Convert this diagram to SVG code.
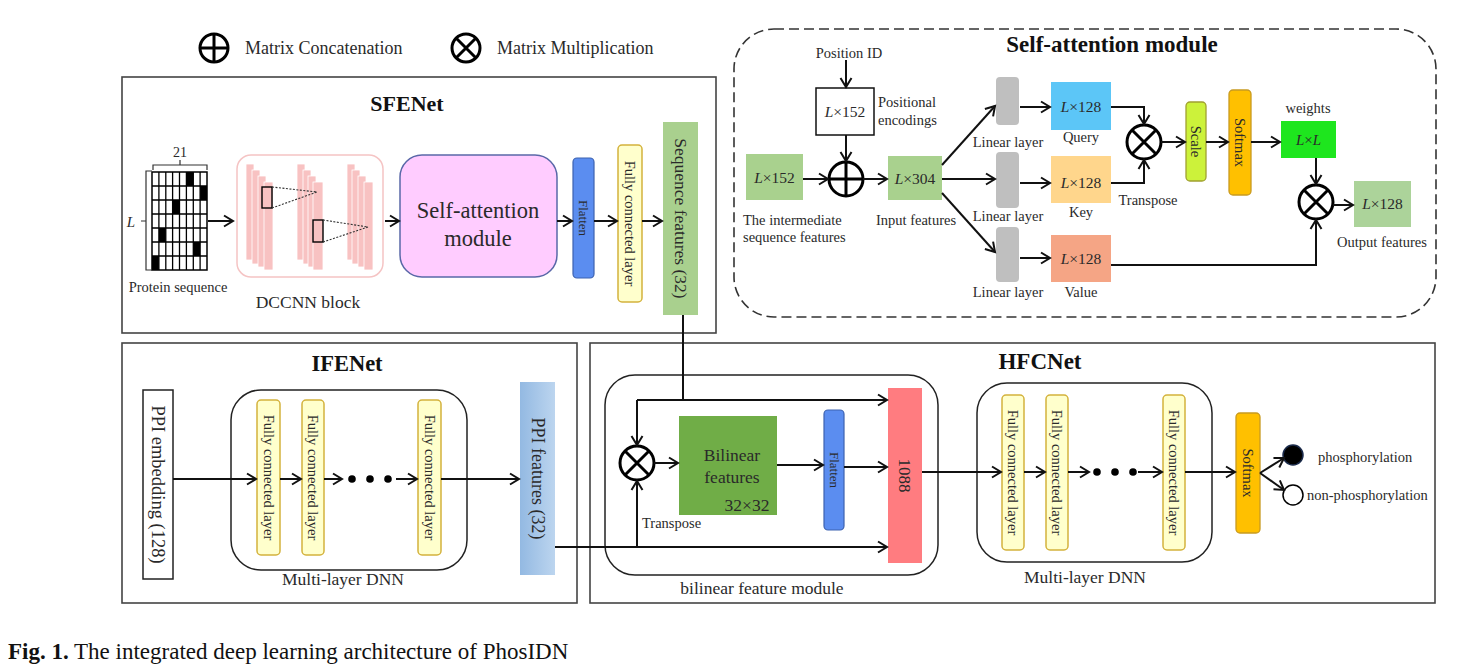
<svg xmlns="http://www.w3.org/2000/svg" width="1462" height="665" viewBox="0 0 1462 665">
<defs>
<style>
text{font-family:"Liberation Serif","Times New Roman",serif;fill:#2a2a2a}
.b{font-weight:bold;fill:#111}
.s14{font-size:14.5px}
.s17{font-size:18px}
.m{text-anchor:middle}
.frame{fill:none;stroke:#444;stroke-width:1.6}
.ln{fill:none;stroke:#111;stroke-width:2}
.ar{fill:none;stroke:#111;stroke-width:2;marker-end:url(#arr)}
.fc{fill:#ffffcc;stroke:#d4b23c;stroke-width:1.5}
.bar{fill:#f8c2c2;stroke:#fff;stroke-width:0.8}
.op{fill:#fff;stroke:#000;stroke-width:3}
.rt{font-size:14.5px;text-anchor:middle}
</style>
<marker id="arr" markerUnits="userSpaceOnUse" markerWidth="14" markerHeight="14" refX="11" refY="7" orient="auto">
<path d="M2,1.5 L11,7 L2,12.5" fill="none" stroke="#111" stroke-width="2"/>
</marker>
<linearGradient id="ppig" x1="0" y1="0" x2="1" y2="0">
<stop offset="0" stop-color="#93b9e2"/>
<stop offset="1" stop-color="#bcd5ef"/>
</linearGradient>
</defs>
<rect width="1462" height="665" fill="#fff"/>

<!-- Legend -->
<g id="legend">
<circle class="op" cx="214" cy="48" r="14"/>
<path d="M200,48 H228 M214,34 V62" stroke="#000" stroke-width="3"/>
<text x="245" y="54" class="s17">Matrix Concatenation</text>
<circle class="op" cx="466" cy="48" r="14"/>
<path d="M456,38 L476,58 M476,38 L456,58" stroke="#000" stroke-width="3"/>
<text x="497" y="54" class="s17">Matrix Multiplication</text>
</g>

<!-- Frames -->
<g id="SFENet">
<rect class="frame" x="122" y="77" width="594" height="256"/>
<text x="407" y="111" class="b m" style="font-size:22px">SFENet</text>
</g>
<g id="IFENet">
<rect class="frame" x="122" y="343" width="455" height="260"/>
<text x="347" y="371" class="b m" style="font-size:22.5px">IFENet</text>
</g>
<g id="HFCNet">
<rect class="frame" x="590" y="343" width="845" height="260"/>
<text x="1040" y="369" class="b m" style="font-size:23px">HFCNet</text>
</g>
<g id="sa-module-frame">
<rect x="734" y="29" width="702" height="288" rx="40" fill="none" stroke="#333" stroke-width="1.6" stroke-dasharray="10,5"/>
<text x="1112" y="52" class="b m" style="font-size:23px">Self-attention module</text>
</g>

<!-- Protein sequence grid -->
<g id="protein-seq">
<rect x="152" y="172" width="55" height="98" fill="#fff" stroke="#000" stroke-width="1.5"/>
<g fill="#000">
<rect x="186.4" y="172" width="6.9" height="14"/>
<rect x="200.1" y="186" width="6.9" height="14"/>
<rect x="172.6" y="200" width="6.9" height="14"/>
<rect x="158.9" y="228" width="6.9" height="14"/>
<rect x="193.3" y="242" width="6.9" height="14"/>
<rect x="152" y="256" width="6.9" height="14"/>
</g>
<path d="M158.9,172V270M165.8,172V270M172.6,172V270M179.5,172V270M186.4,172V270M193.3,172V270M200.1,172V270M152,186H207M152,200H207M152,214H207M152,228H207M152,242H207M152,256H207" stroke="#000" stroke-width="1.3"/>
<path d="M152,171 H146 V270 H152 M146,221 H141" fill="none" stroke="#333" stroke-width="1.2"/>
<path d="M153,170 V165 H207 V170 M180,165 V160" fill="none" stroke="#333" stroke-width="1.2"/>
<text x="180" y="157" class="m" style="font-size:14px">21</text>
<text x="131" y="227" class="m" style="font-size:15px;font-style:italic">L</text>
<text x="178" y="292" class="m" style="font-size:14.5px">Protein sequence</text>
</g>

<!-- DCCNN block -->
<g id="dccnn">
<rect x="237" y="155" width="146" height="122" rx="14" fill="#fff" stroke="#f5c4c4" stroke-width="1.5"/>
<rect class="bar" x="246" y="164" width="8" height="96"/>
<rect class="bar" x="252" y="170" width="8" height="94"/>
<rect class="bar" x="258" y="176" width="8" height="91"/>
<rect class="bar" x="264" y="182" width="9" height="88"/>
<rect class="bar" x="297" y="164" width="8" height="96"/>
<rect class="bar" x="303" y="170" width="8" height="94"/>
<rect class="bar" x="308" y="176" width="8" height="91"/>
<rect class="bar" x="313" y="182" width="10" height="88"/>
<rect class="bar" x="347" y="164" width="8" height="96"/>
<rect class="bar" x="352" y="170" width="8" height="94"/>
<rect class="bar" x="358" y="176" width="8" height="91"/>
<rect class="bar" x="364" y="182" width="9" height="88"/>
<rect x="262" y="187" width="10" height="21" fill="#f8c2c2" stroke="#000" stroke-width="1.4"/>
<path d="M272,187 L317,192 M272,208 L317,192" stroke="#333" stroke-width="1.1" stroke-dasharray="2,1.5"/>
<rect x="313" y="220" width="10" height="22" fill="#f8c2c2" stroke="#000" stroke-width="1.4"/>
<path d="M323,220 L368,227 M323,242 L368,227" stroke="#333" stroke-width="1.1" stroke-dasharray="2,1.5"/>
<text x="308" y="308" class="m" style="font-size:17.5px">DCCNN block</text>
</g>

<g id="self-attention">
<rect x="400" y="155" width="157" height="122" rx="22" fill="#ffccff" stroke="#5a68a8" stroke-width="1.5"/>
<text x="478" y="218" class="m" style="font-size:22.5px">Self-attention</text>
<text x="478" y="246" class="m" style="font-size:22.5px">module</text>
</g>
<g id="flatten1">
<rect x="573" y="158" width="21" height="120" rx="4" fill="#5b8df0" stroke="#3d62b0" stroke-width="1.2"/>
<text transform="translate(583.5,218) rotate(90)" class="m" dy="4.5" style="font-size:13px">Flatten</text>
</g>
<g id="fc-sfenet">
<rect class="fc" x="618" y="145" width="24" height="157" rx="4"/>
<text transform="translate(630,223.5) rotate(90)" class="rt" dy="5">Fully connected  layer</text>
</g>
<g id="seq-features">
<rect x="663" y="122" width="35" height="193" fill="#a9d08e"/>
<text transform="translate(680.5,218.5) rotate(90)" class="m" dy="6" style="font-size:17.5px">Sequence features (32)</text>
</g>

<!-- Self-attention module detail -->
<g id="position-id"><text x="849" y="58" class="s14 m">Position ID</text></g>
<g id="pos-enc">
<rect x="816" y="88" width="58" height="47" fill="#fff" stroke="#111" stroke-width="1.5"/>
<text x="845" y="117" class="m" style="font-size:15.5px"><tspan font-style="italic">L</tspan>×152</text>
<text x="878" y="107" class="s14">Positional</text>
<text x="878" y="125" class="s14">encodings</text>
</g>
<g id="inter-feat">
<rect x="746" y="154" width="57" height="46" fill="#a9d18e"/>
<text x="774.5" y="183" class="m" style="font-size:15.5px"><tspan font-style="italic">L</tspan>×152</text>
<text x="743" y="225" class="s14">The intermediate</text>
<text x="743" y="242" class="s14">sequence features</text>
</g>
<g id="concat">
<circle class="op" cx="846" cy="179" r="17"/>
<path d="M829,179 H863 M846,162 V196" stroke="#000" stroke-width="3"/>
</g>
<g id="input-feat">
<rect x="888" y="156" width="54" height="44" fill="#a9d18e"/>
<text x="915" y="184" class="m" style="font-size:15.5px"><tspan font-style="italic">L</tspan>×304</text>
<text x="916" y="225" class="s14 m">Input  features</text>
</g>
<g id="linear1">
<rect x="996" y="77" width="23" height="48" rx="4" fill="#bfbfbf"/>
<text x="1008" y="147" class="s14 m">Linear  layer</text>
</g>
<g id="linear2">
<rect x="996" y="152" width="23" height="56" rx="4" fill="#bfbfbf"/>
<text x="1008" y="221" class="s14 m">Linear  layer</text>
</g>
<g id="linear3">
<rect x="996" y="227" width="23" height="55" rx="4" fill="#bfbfbf"/>
<text x="1008" y="297" class="s14 m">Linear  layer</text>
</g>
<g id="query">
<rect x="1051" y="82" width="60" height="48" fill="#5cc6f7"/>
<text x="1081" y="112" class="m" style="font-size:15.5px"><tspan font-style="italic">L</tspan>×128</text>
<text x="1081" y="142" class="s14 m">Query</text>
</g>
<g id="key">
<rect x="1051" y="156" width="60" height="47" fill="#ffd68c"/>
<text x="1081" y="188" class="m" style="font-size:15.5px"><tspan font-style="italic">L</tspan>×128</text>
<text x="1081" y="217" class="s14 m">Key</text>
</g>
<g id="value">
<rect x="1051" y="235" width="60" height="47" fill="#f5a585"/>
<text x="1081" y="264" class="m" style="font-size:15.5px"><tspan font-style="italic">L</tspan>×128</text>
<text x="1081" y="297" class="s14 m">Value</text>
</g>
<g id="mult1">
<circle class="op" cx="1144" cy="142" r="17"/>
<path d="M1132,130 L1156,154 M1156,130 L1132,154" stroke="#000" stroke-width="3"/>
<text x="1148" y="205" class="s14 m">Transpose</text>
</g>
<g id="scale">
<rect x="1186" y="102" width="20" height="79" rx="4" fill="#ccf23a" stroke="#a0a030" stroke-width="1.3"/>
<text transform="translate(1196,141.5) rotate(90)" class="rt" dy="5">Scale</text>
</g>
<g id="softmax1">
<rect x="1229" y="90" width="22" height="105" rx="4" fill="#ffc000" stroke="#c89a20" stroke-width="1.3"/>
<text transform="translate(1240,142.5) rotate(90)" class="rt" dy="5">Softmax</text>
</g>
<g id="weights">
<rect x="1281" y="121" width="55" height="37" fill="#1ee61e"/>
<text x="1308.5" y="145" class="m" style="font-size:15px;font-style:italic">L<tspan font-style="normal">×</tspan>L</text>
<text x="1308" y="113" class="s14 m">weights</text>
</g>
<g id="mult2">
<circle class="op" cx="1316" cy="202" r="17"/>
<path d="M1304,190 L1328,214 M1328,190 L1304,214" stroke="#000" stroke-width="3"/>
</g>
<g id="output-feat">
<rect x="1354" y="181" width="57" height="46" fill="#acd39a"/>
<text x="1382.5" y="209" class="m" style="font-size:15.5px"><tspan font-style="italic">L</tspan>×128</text>
<text x="1382" y="247" class="s14 m">Output  features</text>
</g>

<!-- IFENet -->
<g id="ppi-embedding">
<rect x="143" y="390" width="30" height="189" fill="#fff" stroke="#222" stroke-width="1.5"/>
<text transform="translate(158,484.5) rotate(90)" class="m" dy="6" style="font-size:18.5px">PPI embedding (128)</text>
</g>
<g id="dnn-ife">
<rect x="231" y="390" width="236" height="180" rx="30" fill="none" stroke="#222" stroke-width="1.5"/>
<text x="343" y="585" class="m" style="font-size:17.5px">Multi-layer DNN</text>
</g>
<g id="fc-ife1"><rect class="fc" x="257" y="400" width="23" height="155" rx="4"/><text transform="translate(268.5,477.5) rotate(90)" class="rt" dy="5">Fully connected  layer</text></g>
<g id="fc-ife2"><rect class="fc" x="302" y="400" width="22" height="155" rx="4"/><text transform="translate(313,477.5) rotate(90)" class="rt" dy="5">Fully connected  layer</text></g>
<g id="fc-ife3"><rect class="fc" x="418" y="400" width="23" height="155" rx="4"/><text transform="translate(429.5,477.5) rotate(90)" class="rt" dy="5">Fully connected  layer</text></g>
<g id="dots-ife" fill="#000"><circle cx="352" cy="479" r="3.8"/><circle cx="370" cy="479" r="3.8"/><circle cx="388" cy="479" r="3.8"/></g>
<g id="ppi-features">
<rect x="520" y="382" width="35" height="193" fill="url(#ppig)"/>
<text transform="translate(537.5,478.5) rotate(90)" class="m" dy="6" style="font-size:18px">PPI features (32)</text>
</g>

<!-- HFCNet -->
<g id="bilinear-module">
<rect x="605" y="375" width="333" height="200" rx="30" fill="none" stroke="#222" stroke-width="1.5"/>
<text x="762" y="594" class="m" style="font-size:17.5px">bilinear  feature module</text>
</g>
<g id="mult3">
<circle class="op" cx="637" cy="463" r="17"/>
<path d="M625,451 L649,475 M649,451 L625,475" stroke="#000" stroke-width="3"/>
<text x="642" y="528" class="s14">Transpose</text>
</g>
<g id="bilinear-features">
<rect x="679" y="416" width="98" height="99" fill="#70ad47"/>
<text x="732" y="461" class="m" style="font-size:17.5px">Bilinear</text>
<text x="732" y="483" class="m" style="font-size:17.5px">features</text>
<text x="747" y="511" class="m" style="font-size:17.5px">32×32</text>
</g>
<g id="flatten2">
<rect x="824" y="410" width="20" height="120" rx="4" fill="#5b8df0" stroke="#3d62b0" stroke-width="1.2"/>
<text transform="translate(834,470) rotate(90)" class="m" dy="4.5" style="font-size:13px">Flatten</text>
</g>
<g id="concat-1088">
<rect x="888" y="388" width="34" height="175" fill="#ff7c80"/>
<text transform="translate(905,475.5) rotate(90)" class="m" dy="6" style="font-size:17px">1088</text>
</g>
<g id="dnn-hfc">
<rect x="977" y="383" width="235" height="179" rx="30" fill="none" stroke="#222" stroke-width="1.5"/>
<text x="1085" y="583" class="m" style="font-size:17.5px">Multi-layer DNN</text>
</g>
<g id="fc-hfc1"><rect class="fc" x="1002" y="395" width="22" height="155" rx="4"/><text transform="translate(1013,472.5) rotate(90)" class="rt" dy="5">Fully connected  layer</text></g>
<g id="fc-hfc2"><rect class="fc" x="1046" y="395" width="22" height="155" rx="4"/><text transform="translate(1057,472.5) rotate(90)" class="rt" dy="5">Fully connected  layer</text></g>
<g id="fc-hfc3"><rect class="fc" x="1163" y="395" width="22" height="155" rx="4"/><text transform="translate(1174,472.5) rotate(90)" class="rt" dy="5">Fully connected  layer</text></g>
<g id="dots-hfc" fill="#000"><circle cx="1097" cy="472" r="3.8"/><circle cx="1115" cy="472" r="3.8"/><circle cx="1133" cy="472" r="3.8"/></g>
<g id="softmax2">
<rect x="1236" y="413" width="24" height="120" rx="4" fill="#ffc000" stroke="#c89a20" stroke-width="1.3"/>
<text transform="translate(1248,473) rotate(90)" class="rt" dy="5">Softmax</text>
</g>
<g id="phos">
<circle cx="1293" cy="455" r="10" fill="#000" stroke="#1a2a4a" stroke-width="1.5"/>
<text x="1318" y="462" class="s14">phosphorylation</text>
</g>
<g id="nonphos">
<circle cx="1293" cy="495" r="10" fill="#fff" stroke="#000" stroke-width="1.5"/>
<text x="1307" y="500" class="s14">non-phosphorylation</text>
</g>

<!-- Connectors -->
<g id="connectors">
<path class="ar" d="M208,221 H233"/>
<path class="ar" d="M385,221 H399"/>
<path class="ar" d="M557,221 H572"/>
<path class="ar" d="M594,221 H617"/>
<path class="ar" d="M642,221 H662"/>
<path class="ar" d="M846,60 V87"/>
<path class="ar" d="M846,135 V161"/>
<path class="ar" d="M803,179 H828"/>
<path class="ar" d="M863,179 H887"/>
<path class="ar" d="M942,165 L995,106"/>
<path class="ar" d="M942,179 H995"/>
<path class="ar" d="M942,193 L995,252"/>
<path class="ar" d="M1020,107 H1050"/>
<path class="ar" d="M1020,183 H1050"/>
<path class="ar" d="M1020,258 H1050"/>
<path class="ar" d="M1111,107 H1144 V124"/>
<path class="ar" d="M1111,183 H1144 V160"/>
<path class="ar" d="M1161,142 H1185"/>
<path class="ar" d="M1206,142 H1228"/>
<path class="ar" d="M1251,142 H1280"/>
<path class="ar" d="M1316,158 V184"/>
<path class="ar" d="M1111,265 H1316 V220"/>
<path class="ar" d="M1333,205 H1353"/>
<path class="ar" d="M173,479 H256"/>
<path class="ar" d="M280,479 H301"/>
<path class="ar" d="M324,479 H342"/>
<path class="ar" d="M396,479 H417"/>
<path class="ar" d="M441,479 H519"/>
<path class="ln" d="M683,315 V400"/>
<path class="ar" d="M637,400 H887"/>
<path class="ar" d="M637,400 V445"/>
<path class="ar" d="M555,547 H887"/>
<path class="ar" d="M637,547 V481"/>
<path class="ar" d="M654,463 H678"/>
<path class="ar" d="M777,465 H823"/>
<path class="ar" d="M844,467 H887"/>
<path class="ar" d="M922,472 H1001"/>
<path class="ar" d="M1024,472 H1045"/>
<path class="ar" d="M1068,472 H1089"/>
<path class="ar" d="M1138,472 H1162"/>
<path class="ar" d="M1185,472 H1235"/>
<path class="ar" d="M1260,473 L1284,458"/>
<path class="ar" d="M1260,473 L1284,490"/>
</g>

<g id="caption">
<text x="8" y="659" style="font-size:23px;fill:#111"><tspan font-weight="bold">Fig. 1.</tspan> The integrated deep learning architecture of PhosIDN</text>
</g>
</svg>
